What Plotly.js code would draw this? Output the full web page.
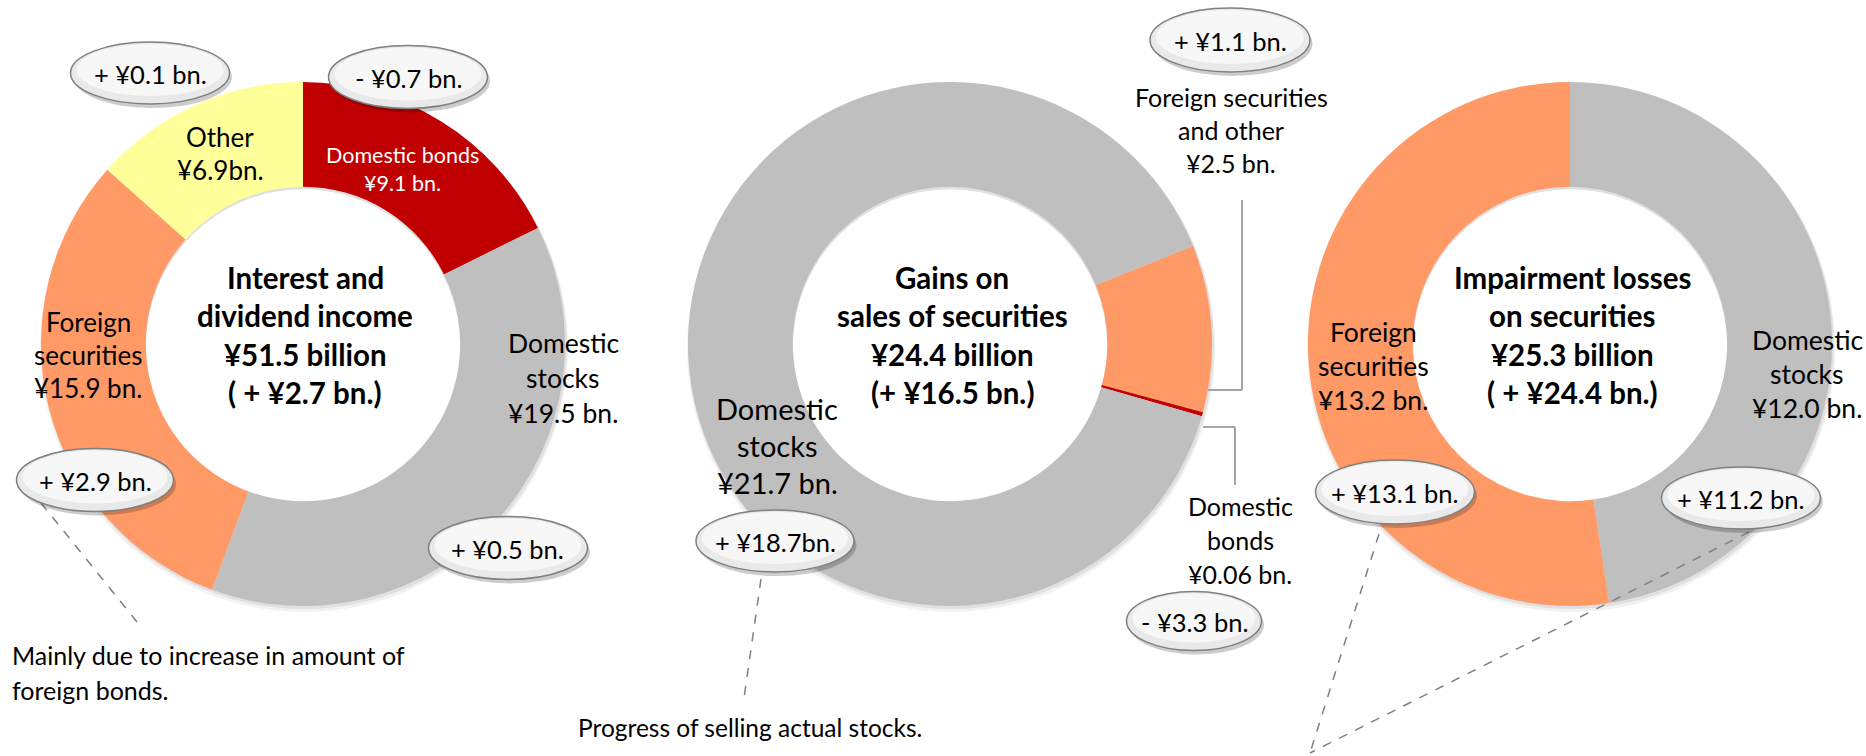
<!DOCTYPE html>
<html><head><meta charset="utf-8">
<script src="https://cdn.plot.ly/plotly-3.0.1.min.js"></script>
<style>html,body{margin:0;padding:0;background:#fff}#chart{width:1866px;height:756px}</style>
</head><body><div id="chart"></div>
<script>
// ---------- DATA ----------
// Interest and dividend income (clockwise from 12 o'clock)
const interestLabels = ['Domestic bonds', 'Domestic stocks', 'Foreign securities', 'Other'];
const interestValues = [9.1, 19.5, 15.9, 6.9];
const interestValueText = ['¥9.1 bn.', '¥19.5 bn.', '¥15.9 bn.', '¥6.9bn.'];
const interestChanges = ['- ¥0.7 bn.', '+ ¥0.5 bn.', '+ ¥2.9 bn.', '+ ¥0.1 bn.'];

// Gains on sales of securities
const gainsLabels = ['Foreign securities and other', 'Domestic bonds', 'Domestic stocks'];
const gainsValues = [2.5, 0.06, 21.7];
const gainsValueText = ['¥2.5 bn.', '¥0.06 bn.', '¥21.7 bn.'];
const gainsChanges = ['+ ¥1.1 bn.', '- ¥3.3 bn.', '+ ¥18.7bn.'];

// Impairment losses on securities
const impairLabels = ['Domestic stocks', 'Foreign securities'];
const impairValues = [12.0, 13.2];
const impairValueText = ['¥12.0 bn.', '¥13.2 bn.'];
const impairChanges = ['+ ¥11.2 bn.', '+ ¥13.1 bn.'];

const chartTitles = [['Interest and', 'dividend income'], ['Gains on', 'sales of securities'], ['Impairment losses', 'on securities']];
const chartTotals = ['¥51.5 billion', '¥24.4 billion', '¥25.3 billion'];
const chartTotalChanges = ['( + ¥2.7 bn.)', '(+ ¥16.5 bn.)', '( + ¥24.4 bn.)'];

const notes = [['Mainly due to increase in amount of', 'foreign bonds.'], ['Progress of selling actual stocks.']];

// ---------- STYLE / LAYOUT ----------
const W = 1866, H = 756, R = 262, HOLE = 0.6;
const FONT = 'Lato, "Open Sans", sans-serif';
const RED = '#C00000', GRAY = '#BFBFBF', ORANGE = '#FF9966', YELLOW = '#FFFF99';
const px = x => x / W, py = y => 1 - y / H;
const dom = (cx, cy) => ({x: [px(cx - R), px(cx + R)], y: [py(cy + R), py(cy - R)]});

const centers = [[303, 344], [950, 344], [1570, 344]];

function pie(labels, values, colors, c, rot) {
  return {
    type: 'pie', labels: labels, values: values, hole: HOLE, sort: false,
    direction: 'clockwise', rotation: rot, textinfo: 'none', hoverinfo: 'none',
    marker: {colors: colors, line: {width: 0}}, domain: dom(c[0], c[1]), showlegend: false
  };
}
const data = [
  pie(interestLabels, interestValues, [RED, GRAY, ORANGE, YELLOW], centers[0], 0),
  pie(gainsLabels, gainsValues, [ORANGE, RED, GRAY], centers[1], 68),
  pie(impairLabels, impairValues, [GRAY, ORANGE], centers[2], 0)
];

const annotations = [];
const shapes = [];
function txt(s, x, y, size, opts) {
  opts = opts || {};
  annotations.push({
    xref: 'paper', yref: 'paper', x: px(x), y: py(y), text: opts.bold ? '<b>' + s + '</b>' : s,
    showarrow: false, xanchor: opts.anchor || 'center', yanchor: 'middle',
    font: {family: FONT, size: size, color: opts.color || '#000'}
  });
}
function block(lines, x, y0, step, size, opts) {
  lines.forEach((l, i) => txt(l, x, y0 + i * step, size, opts));
}
function ellipse(cx, cy, rx, ry, fill, lineStyle, layer) {
  shapes.push({type: 'circle', xref: 'paper', yref: 'paper', layer: layer || 'above',
    x0: px(cx - rx), x1: px(cx + rx), y0: py(cy + ry), y1: py(cy - ry),
    fillcolor: fill, line: lineStyle || {width: 0}});
}
function bubble(s, cx, cy, w, h) {
  ellipse(cx + 2.5, cy + 4, w / 2, h / 2, 'rgba(0,0,0,0.2)');
  ellipse(cx, cy, w / 2, h / 2, '#E9E9E9', {color: '#7F7F7F', width: 1.5});
  ellipse(cx, cy - 3, w / 2 - 6, h / 2 - 5, '#F7F7F7');
  txt(s, cx, cy + 1, 25.5);
}
function line(x0, y0, x1, y1, color, dash, width) {
  shapes.push({type: 'line', xref: 'paper', yref: 'paper', x0: px(x0), y0: py(y0), x1: px(x1), y1: py(y1),
    line: {color: color, dash: dash || 'solid', width: width || 1.5}});
}

// soft shadow of the rings (drawn beneath the pies); white disc keeps the hole clean
centers.forEach(c => {
  ellipse(c[0] + 1, c[1] + 4, R + 2, R + 2, 'rgba(0,0,0,0.05)', null, 'below');
  ellipse(c[0] + 1, c[1] + 2, R + 1, R + 1, 'rgba(0,0,0,0.07)', null, 'below');
  ellipse(c[0], c[1] + 2.5, R * HOLE, R * HOLE, '#FFFFFF', null, 'below');
});

// centre titles
centers.forEach((c, i) => {
  block([chartTitles[i][0], chartTitles[i][1], chartTotals[i], chartTotalChanges[i]], c[0] + 2, 277, 38.5, 29.5, {bold: true});
});

// --- chart 1 labels
block(['Other', interestValueText[3]], 220, 137, 33, 26);
block(['Domestic bonds', interestValueText[0]], 402, 155, 28, 21.5, {color: '#FFFFFF'});
block(['Foreign', 'securities', interestValueText[2]], 88, 322, 33, 26);
block(['Domestic', 'stocks', interestValueText[1]], 563, 343, 35, 26.5);
line(41, 503, 137, 622, '#7F7F7F', 'dash', 1.5);
bubble(interestChanges[3], 150, 73, 159, 62);
bubble(interestChanges[0], 408, 77, 159, 63);
bubble(interestChanges[2], 95, 480, 157, 63);
bubble(interestChanges[1], 508, 548, 159, 63);
txt(notes[0][0], 10, 655, 25, {anchor: 'left'});
txt(notes[0][1], 10, 690, 25, {anchor: 'left'});

// --- chart 2 labels
block(['Domestic', 'stocks', gainsValueText[2]], 777, 408, 37.5, 29);
block(['Foreign securities', 'and other', gainsValueText[0]], 1231, 97, 33, 25);
block(['Domestic', 'bonds', gainsValueText[1]], 1240, 506, 34, 25);
line(1242, 200, 1242, 390, '#A6A6A6', 'solid', 2);
line(1242, 390, 1208, 390, '#A6A6A6', 'solid', 2);
line(1203, 427, 1235, 427, '#A6A6A6', 'solid', 2);
line(1235, 427, 1235, 485, '#A6A6A6', 'solid', 2);
line(761, 579, 744, 698, '#7F7F7F', 'dash', 1.5);
bubble(gainsChanges[2], 775, 541, 158, 62);
bubble(gainsChanges[0], 1230, 40, 160, 64);
bubble(gainsChanges[1], 1194, 621, 135, 59);
txt(notes[1][0], 750, 727, 24.5);

// --- chart 3 labels
block(['Foreign', 'securities', impairValueText[1]], 1373, 332, 34, 26.5);
block(['Domestic', 'stocks', impairValueText[0]], 1807, 340, 34, 26.5);
line(1379, 534, 1310, 753, '#7F7F7F', 'dash', 1.5);
line(1749, 532, 1310, 753, '#7F7F7F', 'dash', 1.5);
bubble(impairChanges[1], 1395, 492, 159, 64);
bubble(impairChanges[0], 1741, 498, 159, 62);

const layout = {
  width: W, height: H, margin: {l: 0, r: 0, t: 0, b: 0}, paper_bgcolor: '#FFFFFF',
  showlegend: false, annotations: annotations, shapes: shapes, font: {family: FONT}
};
Plotly.newPlot('chart', data, layout, {staticPlot: true, displayModeBar: false});
</script>
</body></html>
